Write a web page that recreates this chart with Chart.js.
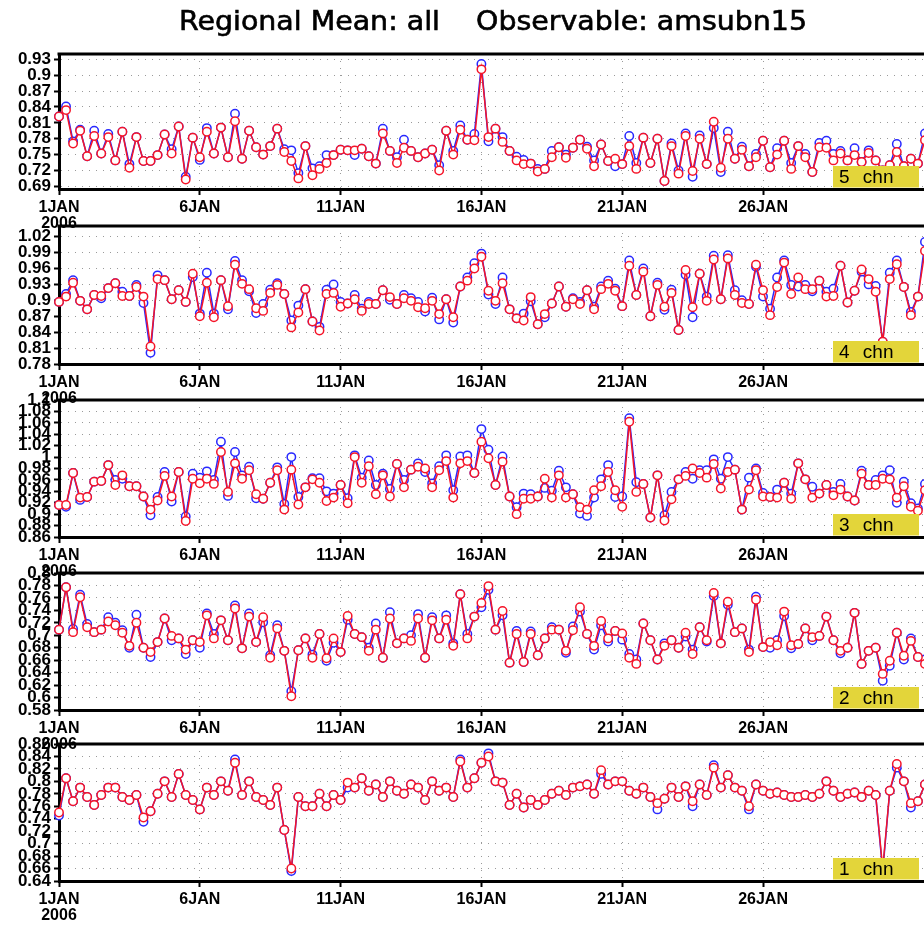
<!DOCTYPE html>
<html>
<head>
<meta charset="utf-8">
<script src="https://cdn.jsdelivr.net/npm/chart.js@4.4.1/dist/chart.umd.min.js"></script>
<style>
  html, body { margin: 0; padding: 0; background: #fff; overflow: hidden; }
  body { width: 924px; height: 925px; position: relative; }
  canvas { position: absolute; left: 0; }
</style>
</head>
<body>
<script>
const chartTitle = 'Regional Mean: all    Observable: amsubn15';
const xTickDays = [1, 6, 11, 16, 21, 26];
const xTickLabels = ['1JAN', '6JAN', '11JAN', '16JAN', '21JAN', '26JAN'];
const yearLabel = '2006';
const channelTags = ['5 chn', '4 chn', '3 chn', '2 chn', '1 chn'];

// 6-hourly regional means, 1 JAN 00Z onwards
const ch5Red = [0.822, 0.834, 0.771, 0.795, 0.747, 0.785, 0.752, 0.783, 0.739, 0.793,
  0.725, 0.783, 0.738, 0.738, 0.749, 0.788, 0.752, 0.803, 0.703, 0.782,
  0.745, 0.793, 0.752, 0.801, 0.745, 0.813, 0.742, 0.795, 0.764, 0.750,
  0.766, 0.799, 0.755, 0.738, 0.705, 0.766, 0.711, 0.723, 0.734, 0.749,
  0.759, 0.758, 0.758, 0.761, 0.747, 0.733, 0.790, 0.757, 0.734, 0.763,
  0.757, 0.745, 0.752, 0.759, 0.720, 0.795, 0.750, 0.797, 0.778, 0.777,
  0.911, 0.783, 0.799, 0.774, 0.757, 0.739, 0.732, 0.733, 0.718, 0.723,
  0.745, 0.764, 0.744, 0.763, 0.778, 0.761, 0.728, 0.769, 0.738, 0.742,
  0.732, 0.766, 0.723, 0.782, 0.734, 0.780, 0.700, 0.766, 0.714, 0.785,
  0.719, 0.780, 0.732, 0.812, 0.725, 0.780, 0.742, 0.759, 0.728, 0.745,
  0.776, 0.726, 0.750, 0.776, 0.723, 0.766, 0.745, 0.717, 0.764, 0.763,
  0.739, 0.752, 0.739, 0.749, 0.736, 0.753, 0.739, 0.720, 0.730, 0.755,
  0.728, 0.742, 0.733, 0.777];
const ch5Blue = [0.822, 0.841, 0.775, 0.797, 0.747, 0.795, 0.752, 0.789, 0.739, 0.793,
  0.732, 0.783, 0.738, 0.738, 0.749, 0.788, 0.760, 0.803, 0.708, 0.782,
  0.740, 0.800, 0.752, 0.801, 0.745, 0.827, 0.742, 0.795, 0.764, 0.750,
  0.766, 0.799, 0.760, 0.758, 0.715, 0.766, 0.724, 0.728, 0.749, 0.749,
  0.759, 0.758, 0.749, 0.761, 0.747, 0.733, 0.799, 0.757, 0.745, 0.778,
  0.757, 0.745, 0.752, 0.759, 0.730, 0.795, 0.757, 0.805, 0.778, 0.789,
  0.921, 0.775, 0.799, 0.783, 0.757, 0.746, 0.740, 0.733, 0.723, 0.723,
  0.757, 0.764, 0.750, 0.763, 0.778, 0.765, 0.739, 0.769, 0.738, 0.728,
  0.732, 0.785, 0.734, 0.782, 0.734, 0.780, 0.700, 0.771, 0.720, 0.790,
  0.708, 0.786, 0.732, 0.800, 0.717, 0.793, 0.742, 0.765, 0.728, 0.751,
  0.776, 0.726, 0.762, 0.776, 0.734, 0.766, 0.751, 0.717, 0.772, 0.776,
  0.751, 0.757, 0.739, 0.762, 0.736, 0.758, 0.739, 0.720, 0.730, 0.770,
  0.728, 0.742, 0.733, 0.790];

const ch4Red = [0.897, 0.907, 0.933, 0.899, 0.883, 0.910, 0.908, 0.923, 0.932, 0.908,
  0.908, 0.925, 0.907, 0.813, 0.940, 0.938, 0.902, 0.919, 0.897, 0.950,
  0.870, 0.933, 0.868, 0.938, 0.889, 0.967, 0.931, 0.921, 0.885, 0.880,
  0.914, 0.929, 0.912, 0.849, 0.877, 0.921, 0.860, 0.843, 0.912, 0.914,
  0.888, 0.894, 0.902, 0.880, 0.893, 0.893, 0.919, 0.906, 0.893, 0.904,
  0.899, 0.887, 0.885, 0.899, 0.874, 0.902, 0.868, 0.926, 0.937, 0.960,
  0.982, 0.918, 0.899, 0.932, 0.883, 0.866, 0.862, 0.906, 0.855, 0.874,
  0.894, 0.926, 0.888, 0.902, 0.893, 0.919, 0.883, 0.921, 0.931, 0.918,
  0.889, 0.965, 0.910, 0.954, 0.870, 0.929, 0.888, 0.914, 0.844, 0.957,
  0.887, 0.950, 0.899, 0.977, 0.902, 0.979, 0.910, 0.895, 0.893, 0.967,
  0.919, 0.872, 0.925, 0.971, 0.912, 0.943, 0.921, 0.921, 0.937, 0.907,
  0.908, 0.965, 0.896, 0.918, 0.958, 0.940, 0.916, 0.822, 0.940, 0.968,
  0.925, 0.872, 0.907, 0.993];
const ch4Blue = [0.897, 0.912, 0.938, 0.899, 0.883, 0.910, 0.904, 0.923, 0.932, 0.916,
  0.908, 0.929, 0.895, 0.801, 0.947, 0.938, 0.902, 0.919, 0.897, 0.944,
  0.875, 0.952, 0.875, 0.938, 0.883, 0.974, 0.938, 0.917, 0.876, 0.893,
  0.920, 0.932, 0.912, 0.862, 0.890, 0.921, 0.860, 0.850, 0.920, 0.930,
  0.897, 0.894, 0.910, 0.884, 0.897, 0.893, 0.919, 0.901, 0.893, 0.910,
  0.904, 0.897, 0.879, 0.905, 0.864, 0.902, 0.858, 0.926, 0.943, 0.970,
  0.988, 0.911, 0.893, 0.943, 0.883, 0.866, 0.875, 0.898, 0.855, 0.868,
  0.894, 0.926, 0.888, 0.904, 0.897, 0.919, 0.888, 0.926, 0.937, 0.922,
  0.889, 0.975, 0.910, 0.960, 0.870, 0.933, 0.882, 0.920, 0.844, 0.948,
  0.868, 0.950, 0.907, 0.984, 0.902, 0.985, 0.919, 0.900, 0.893, 0.963,
  0.907, 0.884, 0.943, 0.975, 0.929, 0.926, 0.929, 0.917, 0.937, 0.916,
  0.922, 0.965, 0.896, 0.918, 0.954, 0.930, 0.927, 0.822, 0.952, 0.975,
  0.925, 0.878, 0.907, 1.010];

const ch3Red = [0.916, 0.916, 0.972, 0.929, 0.930, 0.957, 0.958, 0.986, 0.951, 0.968,
  0.949, 0.949, 0.931, 0.908, 0.924, 0.967, 0.931, 0.974, 0.888, 0.962,
  0.954, 0.962, 0.953, 1.009, 0.939, 0.989, 0.962, 0.977, 0.935, 0.927,
  0.955, 0.977, 0.908, 0.978, 0.917, 0.947, 0.961, 0.955, 0.923, 0.929,
  0.951, 0.919, 1.000, 0.955, 0.984, 0.935, 0.968, 0.931, 0.988, 0.947,
  0.978, 0.983, 0.980, 0.947, 0.977, 0.993, 0.929, 0.989, 0.993, 0.972,
  1.027, 0.998, 0.951, 0.992, 0.931, 0.900, 0.927, 0.927, 0.931, 0.962,
  0.929, 0.968, 0.929, 0.935, 0.912, 0.908, 0.942, 0.949, 0.974, 0.942,
  0.913, 1.062, 0.939, 0.953, 0.894, 0.968, 0.889, 0.926, 0.961, 0.967,
  0.980, 0.972, 0.964, 0.988, 0.945, 0.974, 0.978, 0.908, 0.943, 0.977,
  0.931, 0.930, 0.929, 0.955, 0.927, 0.989, 0.961, 0.929, 0.936, 0.951,
  0.933, 0.943, 0.931, 0.924, 0.971, 0.951, 0.951, 0.962, 0.961, 0.929,
  0.949, 0.913, 0.906, 0.942];
const ch3Blue = [0.916, 0.913, 0.972, 0.925, 0.930, 0.957, 0.958, 0.986, 0.960, 0.962,
  0.949, 0.949, 0.931, 0.898, 0.930, 0.974, 0.922, 0.974, 0.896, 0.971,
  0.964, 0.975, 0.960, 1.027, 0.932, 1.009, 0.968, 0.983, 0.928, 0.927,
  0.955, 0.982, 0.918, 1.000, 0.930, 0.947, 0.963, 0.963, 0.940, 0.936,
  0.951, 0.928, 1.003, 0.964, 0.994, 0.951, 0.971, 0.944, 0.988, 0.960,
  0.978, 0.989, 0.974, 0.954, 0.984, 1.003, 0.942, 1.001, 1.003, 0.972,
  1.049, 1.013, 0.951, 1.001, 0.931, 0.912, 0.936, 0.935, 0.931, 0.946,
  0.941, 0.976, 0.947, 0.935, 0.901, 0.897, 0.929, 0.961, 0.986, 0.930,
  0.931, 1.068, 0.956, 0.953, 0.894, 0.968, 0.898, 0.939, 0.961, 0.974,
  0.962, 0.977, 0.977, 0.996, 0.962, 1.000, 0.978, 0.908, 0.964, 0.980,
  0.937, 0.930, 0.943, 0.955, 0.936, 0.989, 0.961, 0.948, 0.936, 0.951,
  0.939, 0.953, 0.931, 0.924, 0.976, 0.951, 0.960, 0.968, 0.977, 0.920,
  0.957, 0.919, 0.910, 0.953];

const ch2Red = [0.709, 0.777, 0.705, 0.761, 0.713, 0.705, 0.709, 0.722, 0.716, 0.704,
  0.683, 0.720, 0.680, 0.673, 0.689, 0.727, 0.699, 0.695, 0.677, 0.692,
  0.689, 0.732, 0.695, 0.724, 0.692, 0.743, 0.679, 0.730, 0.689, 0.729,
  0.664, 0.711, 0.675, 0.602, 0.676, 0.695, 0.664, 0.702, 0.663, 0.695,
  0.673, 0.731, 0.702, 0.697, 0.675, 0.709, 0.664, 0.727, 0.687, 0.695,
  0.691, 0.727, 0.664, 0.724, 0.695, 0.725, 0.683, 0.766, 0.695, 0.730,
  0.752, 0.779, 0.709, 0.739, 0.656, 0.702, 0.657, 0.702, 0.668, 0.695,
  0.709, 0.709, 0.675, 0.708, 0.745, 0.702, 0.683, 0.723, 0.695, 0.707,
  0.703, 0.664, 0.654, 0.719, 0.692, 0.661, 0.683, 0.692, 0.680, 0.704,
  0.670, 0.713, 0.692, 0.768, 0.687, 0.754, 0.705, 0.711, 0.673, 0.757,
  0.681, 0.689, 0.684, 0.738, 0.684, 0.686, 0.711, 0.697, 0.699, 0.730,
  0.692, 0.675, 0.680, 0.736, 0.654, 0.675, 0.680, 0.638, 0.659, 0.704,
  0.667, 0.691, 0.665, 0.654];
const ch2Blue = [0.709, 0.777, 0.710, 0.765, 0.718, 0.705, 0.709, 0.729, 0.720, 0.708,
  0.680, 0.733, 0.680, 0.665, 0.689, 0.727, 0.692, 0.695, 0.670, 0.692,
  0.680, 0.735, 0.702, 0.724, 0.692, 0.748, 0.679, 0.735, 0.689, 0.721,
  0.668, 0.716, 0.675, 0.610, 0.676, 0.695, 0.669, 0.702, 0.659, 0.688,
  0.673, 0.725, 0.702, 0.697, 0.680, 0.719, 0.664, 0.737, 0.687, 0.695,
  0.700, 0.734, 0.664, 0.729, 0.695, 0.732, 0.687, 0.766, 0.702, 0.730,
  0.745, 0.773, 0.709, 0.732, 0.656, 0.707, 0.657, 0.706, 0.668, 0.695,
  0.713, 0.709, 0.672, 0.714, 0.738, 0.702, 0.677, 0.716, 0.690, 0.707,
  0.693, 0.670, 0.661, 0.719, 0.692, 0.661, 0.687, 0.692, 0.680, 0.698,
  0.677, 0.713, 0.690, 0.763, 0.687, 0.749, 0.705, 0.711, 0.677, 0.762,
  0.681, 0.680, 0.692, 0.731, 0.679, 0.686, 0.711, 0.692, 0.699, 0.730,
  0.692, 0.671, 0.680, 0.736, 0.654, 0.675, 0.680, 0.627, 0.651, 0.704,
  0.661, 0.695, 0.665, 0.661];

const ch1Red = [0.750, 0.805, 0.768, 0.790, 0.775, 0.762, 0.778, 0.790, 0.790, 0.775,
  0.770, 0.778, 0.742, 0.752, 0.780, 0.800, 0.775, 0.812, 0.778, 0.770,
  0.755, 0.790, 0.778, 0.800, 0.785, 0.830, 0.778, 0.800, 0.775, 0.770,
  0.762, 0.790, 0.722, 0.660, 0.775, 0.760, 0.760, 0.780, 0.760, 0.778,
  0.770, 0.798, 0.790, 0.805, 0.785, 0.795, 0.775, 0.800, 0.785, 0.780,
  0.795, 0.790, 0.770, 0.800, 0.785, 0.790, 0.775, 0.832, 0.790, 0.805,
  0.830, 0.840, 0.800, 0.798, 0.762, 0.780, 0.758, 0.770, 0.762, 0.770,
  0.780, 0.785, 0.778, 0.790, 0.792, 0.795, 0.780, 0.818, 0.795, 0.800,
  0.800, 0.785, 0.780, 0.790, 0.775, 0.765, 0.772, 0.790, 0.775, 0.792,
  0.768, 0.795, 0.778, 0.822, 0.790, 0.810, 0.790, 0.785, 0.760, 0.795,
  0.785, 0.780, 0.782, 0.778, 0.775, 0.775, 0.778, 0.775, 0.780, 0.800,
  0.785, 0.775, 0.780, 0.782, 0.775, 0.785, 0.778, 0.660, 0.785, 0.828,
  0.800, 0.765, 0.768, 0.795];
const ch1Blue = [0.745, 0.805, 0.768, 0.790, 0.775, 0.762, 0.778, 0.790, 0.790, 0.775,
  0.770, 0.778, 0.735, 0.752, 0.780, 0.800, 0.775, 0.812, 0.778, 0.770,
  0.755, 0.790, 0.778, 0.800, 0.785, 0.835, 0.778, 0.800, 0.775, 0.770,
  0.762, 0.790, 0.722, 0.656, 0.775, 0.760, 0.760, 0.780, 0.760, 0.778,
  0.770, 0.790, 0.790, 0.805, 0.785, 0.795, 0.775, 0.800, 0.785, 0.780,
  0.795, 0.790, 0.770, 0.800, 0.785, 0.790, 0.775, 0.835, 0.790, 0.805,
  0.830, 0.845, 0.800, 0.798, 0.762, 0.780, 0.758, 0.770, 0.762, 0.770,
  0.780, 0.785, 0.778, 0.790, 0.792, 0.795, 0.780, 0.812, 0.795, 0.800,
  0.800, 0.785, 0.780, 0.790, 0.775, 0.755, 0.772, 0.790, 0.775, 0.792,
  0.760, 0.795, 0.778, 0.826, 0.790, 0.810, 0.790, 0.785, 0.755, 0.795,
  0.785, 0.780, 0.782, 0.778, 0.775, 0.775, 0.778, 0.775, 0.780, 0.800,
  0.785, 0.775, 0.780, 0.782, 0.775, 0.785, 0.778, 0.655, 0.785, 0.822,
  0.800, 0.758, 0.768, 0.795];

// y tick values per channel
const ch5Ticks = [0.69, 0.72, 0.75, 0.78, 0.81, 0.84, 0.87, 0.9, 0.93];
const ch4Ticks = [0.78, 0.81, 0.84, 0.87, 0.9, 0.93, 0.96, 0.99, 1.02];
const ch3Ticks = [0.86, 0.88, 0.9, 0.92, 0.94, 0.96, 0.98, 1, 1.02, 1.04, 1.06, 1.08, 1.1];
const ch2Ticks = [0.58, 0.6, 0.62, 0.64, 0.66, 0.68, 0.7, 0.72, 0.74, 0.76, 0.78, 0.8];
const ch1Ticks = [0.64, 0.66, 0.68, 0.7, 0.72, 0.74, 0.76, 0.78, 0.8, 0.82, 0.84, 0.86];

// time axis in days of January, one point every 6 hours
const timeDays = ch5Red.map((_, i) => 1 + i / 4);

const series = [
  { red: ch5Red, blue: ch5Blue, ticks: ch5Ticks },
  { red: ch4Red, blue: ch4Blue, ticks: ch4Ticks },
  { red: ch3Red, blue: ch3Blue, ticks: ch3Ticks },
  { red: ch2Red, blue: ch2Blue, ticks: ch2Ticks },
  { red: ch1Red, blue: ch1Blue, ticks: ch1Ticks }
];

// panel frames on the page (px) and axis limits
const frames = [
  { top: 54, bottom: 189, min: 0.685, max: 0.94 },
  { top: 226, bottom: 364, min: 0.78, max: 1.04 },
  { top: 400, bottom: 537, min: 0.86, max: 1.1 },
  { top: 573, bottom: 710, min: 0.58, max: 0.8 },
  { top: 744, bottom: 881, min: 0.64, max: 0.86 }
];

const CANVAS_W = 940;
const PLOT_LEFT = 59;
const PLOT_RIGHT = 932;
const XAXIS_H = 46;
const RED = 'rgb(245, 20, 40)';
const BLUE = 'rgb(40, 40, 255)';
const LABEL_FONT = { family: '"Liberation Sans", Arial, sans-serif', weight: 'bold', size: 16 };

const toPoints = (vals) => vals.map((v, i) => ({ x: timeDays[i], y: v }));

// frame top edge, channel tag box and (first panel) the title
const panelDecor = {
  id: 'panelDecor',
  afterDraw(chart, args, opts) {
    const { ctx, chartArea: a } = chart;
    ctx.save();
    ctx.strokeStyle = '#000';
    ctx.lineWidth = 3;
    ctx.beginPath();
    ctx.moveTo(a.left - 1.5, a.top);
    ctx.lineTo(a.right, a.top);
    ctx.stroke();

    ctx.fillStyle = '#e3d53a';
    ctx.fillRect(833, a.bottom - 23, 86, 21.5);
    ctx.fillStyle = '#000';
    ctx.font = '19px "Liberation Sans", Arial, sans-serif';
    ctx.textBaseline = 'middle';
    ctx.textAlign = 'left';
    ctx.wordSpacing = '8px';
    ctx.fillText(opts.tag, 839, a.bottom - 11.5);

    if (opts.title) {
      ctx.font = '26px "DejaVu Sans", sans-serif';
      ctx.textAlign = 'center';
      ctx.wordSpacing = '0px';
      const w = ctx.measureText(opts.title).width;
      ctx.translate(493, 23);
      ctx.scale(628 / w, 1);
      ctx.lineWidth = 0.6;
      ctx.strokeStyle = '#000';
      ctx.fillText(opts.title, 0, 0);
      ctx.strokeText(opts.title, 0, 0);
    }
    ctx.restore();
  }
};

series.forEach((s, k) => {
  const f = frames[k];
  const padTop = k === 0 ? f.top : 14;
  const canvas = document.createElement('canvas');
  canvas.width = CANVAS_W;
  canvas.height = padTop + (f.bottom - f.top) + XAXIS_H;
  canvas.style.top = (f.top - padTop) + 'px';
  document.body.appendChild(canvas);

  new Chart(canvas, {
    type: 'line',
    data: {
      datasets: [
        {
          data: toPoints(s.red),
          borderColor: RED,
          borderWidth: 1.5,
          pointBorderColor: RED,
          pointBackgroundColor: '#fff',
          pointRadius: 4.2,
          pointBorderWidth: 1.5,
          order: 0,
          clip: false
        },
        {
          data: toPoints(s.blue),
          borderColor: BLUE,
          borderWidth: 1.5,
          pointBorderColor: BLUE,
          pointBackgroundColor: '#fff',
          pointRadius: 4.2,
          pointBorderWidth: 1.5,
          order: 1,
          clip: false
        }
      ]
    },
    options: {
      responsive: false,
      animation: false,
      layout: { padding: { top: padTop, left: 0, right: CANVAS_W - PLOT_RIGHT, bottom: 0 } },
      plugins: {
        legend: { display: false },
        tooltip: { enabled: false },
        panelDecor: { tag: channelTags[k], title: k === 0 ? chartTitle : null }
      },
      scales: {
        x: {
          type: 'linear',
          min: 1,
          max: 32,
          afterFit: (scale) => { scale.height = XAXIS_H; },
          afterBuildTicks: (scale) => { scale.ticks = xTickDays.map(v => ({ value: v })); },
          ticks: {
            autoSkip: false,
            maxRotation: 0,
            padding: 5,
            color: '#000',
            font: { ...LABEL_FONT, lineHeight: 1.0 },
            callback: (v, i) => i === 0 ? [xTickLabels[i], yearLabel] : xTickLabels[i]
          },
          grid: {
            color: '#9a9a9a',
            lineWidth: 1,
            tickColor: '#000',
            tickLength: 6,
            tickWidth: 2,
            tickBorderDash: []
          },
          border: { color: '#000', width: 3, dash: [1, 6] }
        },
        y: {
          min: f.min,
          max: f.max,
          afterFit: (scale) => { scale.width = PLOT_LEFT; },
          afterBuildTicks: (scale) => { scale.ticks = s.ticks.map(v => ({ value: v })); },
          ticks: {
            autoSkip: false,
            padding: 3,
            color: '#000',
            font: { ...LABEL_FONT, size: 17 },
            callback: (v) => String(v)
          },
          grid: {
            color: '#9a9a9a',
            lineWidth: 1,
            tickColor: '#000',
            tickLength: 5,
            tickWidth: 2,
            tickBorderDash: []
          },
          border: { color: '#000', width: 3, dash: [1, 6] }
        }
      }
    },
    plugins: [panelDecor]
  });
});
</script>
</body>
</html>
